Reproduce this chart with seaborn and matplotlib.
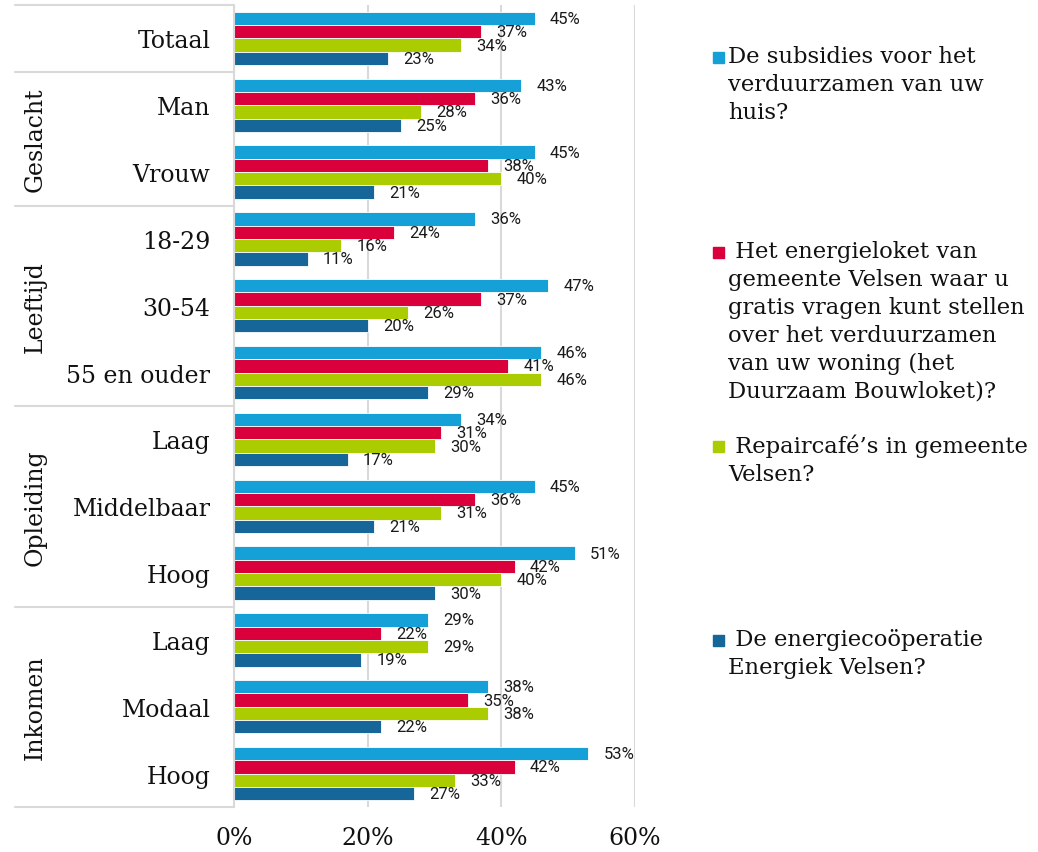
import numpy as np
import pandas as pd
import matplotlib.pyplot as plt
import seaborn as sns
from matplotlib.patches import Rectangle
import matplotlib.transforms as mtransforms

# data
categories = ["Totaal", "Man", "Vrouw", "18-29", "30-54", "55 en ouder",
              "Laag ", "Middelbaar", "Hoog ", "Laag", "Modaal", "Hoog"]
subsidies = [45, 43, 45, 36, 47, 46, 34, 45, 51, 29, 38, 53]
energieloket = [37, 36, 38, 24, 37, 41, 31, 36, 42, 22, 35, 42]
repaircafe = [34, 28, 40, 16, 26, 46, 30, 31, 40, 29, 38, 33]
energiek = [23, 25, 21, 11, 20, 29, 17, 21, 30, 19, 22, 27]
series_labels = [
    "De subsidies voor het\nverduurzamen van uw\nhuis?",
    " Het energieloket van\ngemeente Velsen waar u\ngratis vragen kunt stellen\nover het verduurzamen\nvan uw woning (het\nDuurzaam Bouwloket)?",
    " Repaircafé’s in gemeente\nVelsen?",
    " De energiecoöperatie\nEnergiek Velsen?",
]
groups = ["Geslacht", "Leeftijd", "Opleiding", "Inkomen"]
group_spans = [(1, 2), (3, 5), (6, 8), (9, 11)]
colors = ["#15a0d7", "#d9003c", "#aacc00", "#166699"]

rows = []
for name, vals in zip(["s1", "s2", "s3", "s4"], [subsidies, energieloket, repaircafe, energiek]):
    for c, v in zip(categories, vals):
        rows.append({"cat": c, "serie": name, "val": v / 100})
df = pd.DataFrame(rows)

sns.set_theme(style="white")
plt.rcParams["font.family"] = ["DejaVu Serif"]
plt.rcParams["text.color"] = "#111111"
plt.rcParams["xtick.color"] = "#111111"
plt.rcParams["ytick.color"] = "#111111"
fig = plt.figure(figsize=(10.38, 8.53), dpi=100)
ax = fig.add_axes([234 / 1038, 1 - 808 / 853, 401 / 1038, 802 / 853])

sns.barplot(data=df, y="cat", x="val", hue="serie", order=categories,
            palette=colors, saturation=1, orient="h", width=0.8, edgecolor="white",
            linewidth=0.6, legend=False, ax=ax)

for cont in ax.containers:
    ax.bar_label(cont, labels=[f"{w * 100:.0f}%" for w in cont.datavalues],
                 padding=11, fontsize=12, family="Roboto", color="#1a1a1a")

ax.set_xlim(0, 0.6)
ax.set_ylim(len(categories) - 0.5, -0.5)
ax.set_xticks([0, 0.2, 0.4, 0.6])
ax.set_xticklabels(["0%", "20%", "40%", "60%"], fontsize=17)
ax.tick_params(axis="x", length=0, pad=14)
ax.tick_params(axis="y", length=0, pad=17, labelsize=17)
ax.set_yticks(range(len(categories)))
ax.set_yticklabels([c.strip() for c in categories])
ax.set_xlabel("")
ax.set_ylabel("")
ax.grid(axis="x", color="#d9d9d9", linewidth=1.5)
ax.set_axisbelow(True)
for s in ["top", "right", "bottom"]:
    ax.spines[s].set_visible(False)
ax.spines["left"].set_color("#d9d9d9")
ax.spines["left"].set_linewidth(1.5)

# group separators and labels
trans = mtransforms.blended_transform_factory(ax.transAxes, ax.transData)
x_left = (15 - 234) / 401
for yb in [-0.5, 0.5, 2.5, 5.5, 8.5, 11.5]:
    ax.plot([x_left, 0], [yb, yb], color="#d9d9d9", lw=1.5, transform=trans, clip_on=False)
for g, (a, b) in zip(groups, group_spans):
    ax.text((35 - 234) / 401, (a + b) / 2, g, rotation=90, ha="center", va="center",
            fontsize=17, transform=trans)

# legend
legend_y = [58, 253, 447, 641]
for lab, col, yy in zip(series_labels, colors, legend_y):
    fig.patches.append(Rectangle((713 / 1038, 1 - (yy + 6) / 853), 11 / 1038, 11 / 853,
                                 transform=fig.transFigure, color=col))
    fig.text(728 / 1038, 1 - (yy - 12) / 853, lab, fontsize=16.3, va="top", ha="left",
             linespacing=1.35)

fig.savefig("out.png", dpi=100)
